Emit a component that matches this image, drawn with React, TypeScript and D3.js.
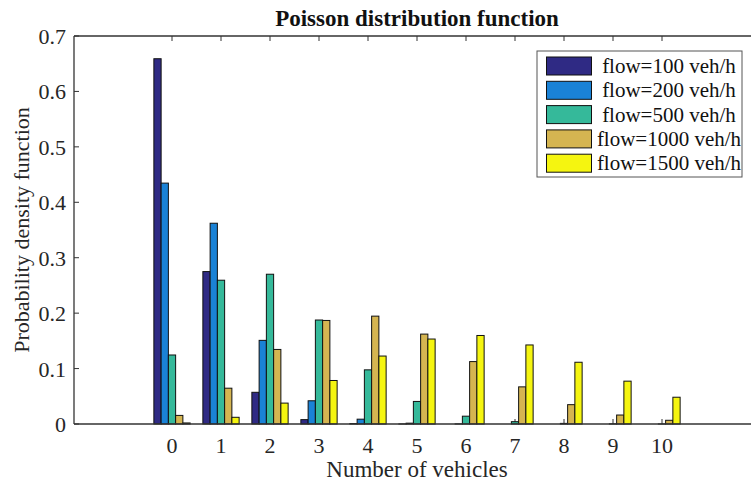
import React from "react";
import * as d3 from "d3";

const categories = [0, 1, 2, 3, 4, 5, 6, 7, 8, 9, 10];
const seriesNames = ["flow=100 veh/h", "flow=200 veh/h", "flow=500 veh/h", "flow=1000 veh/h", "flow=1500 veh/h"];
const flow100 = [0.659, 0.275, 0.0572, 0.0079, 0.0008, 0.0001, 0, 0, 0, 0, 0];
const flow200 = [0.4346, 0.3622, 0.1509, 0.0419, 0.0087, 0.0015, 0.0002, 0, 0, 0, 0];
const flow500 = [0.1245, 0.2594, 0.2702, 0.1876, 0.0977, 0.0407, 0.0141, 0.0042, 0.0011, 0.0003, 0.0001];
const flow1000 = [0.0155, 0.0646, 0.1345, 0.1868, 0.1946, 0.1622, 0.1126, 0.067, 0.0349, 0.0162, 0.0067];
const flow1500 = [0.0019, 0.0121, 0.0377, 0.0785, 0.1226, 0.1533, 0.1597, 0.1426, 0.1114, 0.0773, 0.0483];
const seriesValues = [flow100, flow200, flow500, flow1000, flow1500];
const colors = ["#2f2a84", "#1a82d6", "#35b99a", "#d5b551", "#f5f510"];
const yTicks = [0, 0.1, 0.2, 0.3, 0.4, 0.5, 0.6, 0.7];

const W = 751;
const H = 482;
const FONT = "'Liberation Serif', 'Times New Roman', serif";
const AX = "#333";

export default function App() {
  const left = 74;
  const right = 760;
  const top = 36;
  const bottom = 424;
  const x = d3.scaleLinear().domain([-2, 12]).range([left, right]);
  const y = d3.scaleLinear().domain([0, 0.7]).range([bottom, top]);
  const inner = d3.scaleBand<number>().domain(d3.range(seriesNames.length)).range([-0.37, 0.37]).padding(0);
  const unit = x(1) - x(0);
  const bw = inner.bandwidth() * unit;

  return (
    <svg width={W} height={H} style={{ position: "absolute", left: 0, top: 0, background: "#fff" }} fontFamily={FONT}>
      <rect x={0} y={0} width={W} height={H} fill="#fff" />
      {/* bottom ticks (behind bars) */}
      {categories.map((c) => (
        <line key={"bt" + c} x1={x(c)} x2={x(c)} y1={bottom} y2={bottom - 5} stroke={AX} strokeWidth={1} />
      ))}
      {/* bars */}
      {seriesValues.map((vals, si) =>
        vals.map((v, ci) => {
          const x0 = x(categories[ci]) + (inner(si) as number) * unit;
          const y0 = y(v);
          return (
            <rect
              key={`b${si}-${ci}`}
              x={x0}
              y={y0}
              width={bw}
              height={Math.max(0, bottom - y0)}
              fill={colors[si]}
              stroke="#111"
              strokeWidth={1}
            />
          );
        })
      )}
      {/* axes */}
      <line x1={left} x2={right} y1={bottom} y2={bottom} stroke={AX} strokeWidth={1.3} />
      <line x1={left} x2={right} y1={top} y2={top} stroke={AX} strokeWidth={1.3} />
      <line x1={left} x2={left} y1={top} y2={bottom} stroke={AX} strokeWidth={1.3} />
      {categories.map((c) => (
        <g key={"t" + c}>
          <line x1={x(c)} x2={x(c)} y1={top} y2={top + 5} stroke={AX} strokeWidth={1} />
          <text x={x(c)} y={453} textAnchor="middle" fontSize={22} fill="#262626">
            {c}
          </text>
        </g>
      ))}
      {yTicks.map((t) => (
        <g key={"y" + t}>
          <line x1={left} x2={left + 5} y1={y(t)} y2={y(t)} stroke={AX} strokeWidth={1} />
          <text x={left - 8} y={y(t) + 8} textAnchor="end" fontSize={22} fill="#262626">
            {t === 0 ? "0" : t.toFixed(1)}
          </text>
        </g>
      ))}
      {/* title and labels */}
      <text x={(left + right) / 2} y={26} textAnchor="middle" fontSize={23} fontWeight="bold" fill="#111">
        Poisson distribution function
      </text>
      <text x={(left + right) / 2} y={477} textAnchor="middle" fontSize={23} fill="#262626">
        Number of vehicles
      </text>
      <text
        transform={`translate(29, ${(top + bottom) / 2}) rotate(-90)`}
        textAnchor="middle"
        fontSize={22}
        fill="#262626"
      >
        Probability density function
      </text>
      {/* legend */}
      <g>
        <rect x={537} y={51} width={205} height={126} fill="#fff" stroke="#555" strokeWidth={1} />
        {seriesNames.map((n, i) => (
          <g key={"l" + i}>
            <rect x={546.5} y={57 + i * 24.3} width={45} height={18} fill={colors[i]} stroke="#111" strokeWidth={1} />
            <text x={669} y={73 + i * 24.3} textAnchor="middle" fontSize={21} fill="#111">
              {n}
            </text>
          </g>
        ))}
      </g>
    </svg>
  );
}
